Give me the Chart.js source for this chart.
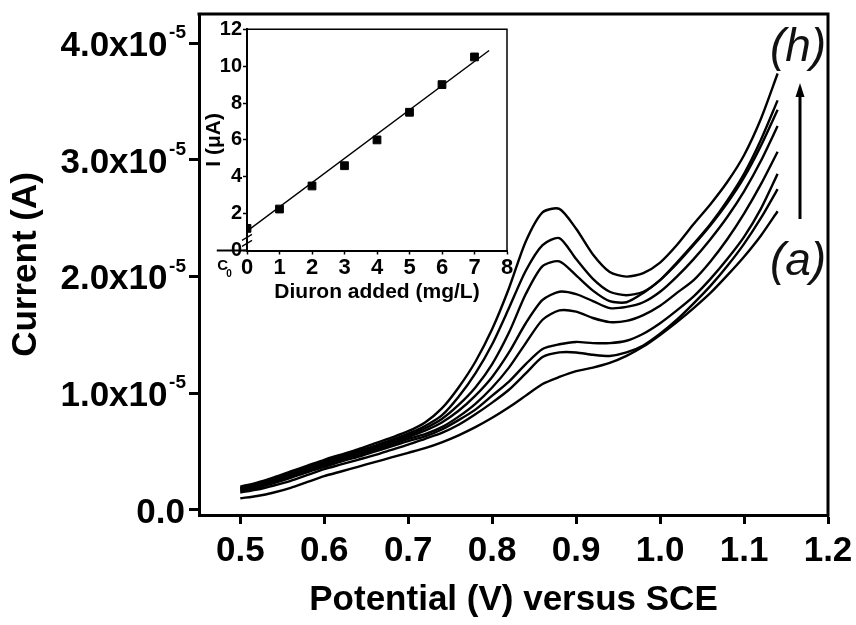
<!DOCTYPE html>
<html><head><meta charset="utf-8">
<script src="https://cdn.jsdelivr.net/npm/chart.js@4.4.1/dist/chart.umd.min.js"></script>
<style>
html,body{margin:0;padding:0;background:#fff;}
#wrap{position:relative;width:856px;height:625px;overflow:hidden;}
#main{position:absolute;left:0;top:0;width:856px;height:625px;}
#inset{position:absolute;left:200px;top:15px;width:315px;height:290px;}
</style></head><body>
<div id="wrap"><canvas id="main" width="856" height="625"></canvas><canvas id="inset" width="315" height="290"></canvas></div>
<script>
// ---- main plot data: potential (V vs SCE) and current in units of 1e-5 A ----
const potentialV = [0.50,0.52,0.54,0.56,0.58,0.60,0.62,0.64,0.66,0.68,0.70,0.72,0.74,0.76,0.78,0.80,0.82,0.84,0.86,0.88,0.90,0.92,0.94,0.96,0.98,1.00,1.02,1.04,1.06,1.08,1.10,1.12,1.14];
const curveA = [.10,.12,.15,.19,.24,.29,.33,.37,.41,.45,.49,.53,.58,.64,.71,.79,.88,.98,1.08,1.14,1.19,1.22,1.26,1.32,1.40,1.50,1.61,1.73,1.86,2.01,2.17,2.35,2.56];
const curveB = [.15,.175,.21,.25,.30,.35,.39,.43,.47,.515,.56,.61,.66,.73,.82,.92,1.03,1.17,1.31,1.35,1.35,1.33,1.32,1.35,1.41,1.51,1.63,1.77,1.92,2.09,2.28,2.50,2.75];
const curveC = [.16,.19,.23,.275,.325,.37,.415,.455,.50,.545,.59,.63,.69,.77,.86,.98,1.10,1.25,1.38,1.42,1.44,1.43,1.43,1.45,1.51,1.60,1.71,1.83,1.98,2.15,2.34,2.58,2.88];
const curveD = [.17,.20,.24,.285,.335,.385,.43,.47,.515,.56,.61,.65,.71,.80,.91,1.05,1.22,1.43,1.63,1.71,1.70,1.645,1.61,1.62,1.67,1.75,1.86,1.97,2.13,2.32,2.54,2.79,3.07];
const curveE = [.18,.21,.25,.295,.345,.395,.44,.485,.53,.575,.625,.68,.75,.85,.98,1.14,1.35,1.60,1.80,1.87,1.85,1.79,1.73,1.74,1.78,1.87,2.00,2.15,2.32,2.51,2.73,2.99,3.29];
const curveF = [.185,.22,.26,.305,.355,.405,.45,.495,.54,.59,.64,.70,.78,.90,1.05,1.25,1.52,1.85,2.09,2.13,2.01,1.88,1.79,1.78,1.86,1.97,2.11,2.27,2.44,2.63,2.85,3.12,3.43];
const curveG = [.19,.225,.27,.315,.365,.415,.46,.505,.55,.60,.655,.72,.81,.97,1.17,1.42,1.73,2.05,2.27,2.33,2.15,1.98,1.87,1.84,1.87,1.97,2.12,2.28,2.45,2.65,2.88,3.17,3.51];
const curveH = [.20,.235,.28,.33,.38,.43,.475,.52,.57,.62,.675,.75,.87,1.05,1.27,1.55,1.90,2.30,2.55,2.58,2.41,2.19,2.04,2.00,2.03,2.12,2.27,2.45,2.62,2.81,3.04,3.35,3.74];
const mainXTicks = [0.5,0.6,0.7,0.8,0.9,1.0,1.1,1.2];
const mainYTicks = [0,1,2,3,4];

// ---- inset data: Diuron added (mg/L) vs I (uA) ----
const insetConc = [0,1,2,3,4,5,6,7];
const insetCurrent = [1.2,2.25,3.5,4.6,6.0,7.5,9.0,10.5];
const fitConc = [0,7.45];
const fitCurrent = [1.05,10.85];
const c0Conc = [-0.75];
const c0Current = [0];
const insetXTicks = [0,1,2,3,4,5,6,7,8];
const insetYTicks = [0,2,4,6,8,10,12];

const FF = '"Liberation Sans", Arial, Helvetica, sans-serif';
const curves = [curveA,curveB,curveC,curveD,curveE,curveF,curveG,curveH];

const mainDecor = {
  id: 'mainDecor',
  afterDraw(chart) {
    const {ctx, chartArea: a, scales: {y}} = chart;
    ctx.save();
    ctx.strokeStyle = '#000';
    ctx.lineWidth = 3;
    ctx.beginPath();
    ctx.moveTo(a.left - 1.5, a.top);
    ctx.lineTo(a.right, a.top);
    ctx.lineTo(a.right, a.bottom + 1.5);
    ctx.stroke();
    // exponent superscripts of the y tick labels
    ctx.fillStyle = '#000';
    ctx.font = 'bold 19px ' + FF;
    ctx.textAlign = 'right';
    ctx.textBaseline = 'alphabetic';
    mainYTicks.forEach(v => {
      if (v !== 0) ctx.fillText('-5', a.left - 13, y.getPixelForValue(v) - 5);
    });
    // curve labels
    ctx.fillStyle = '#111';
    ctx.font = 'italic 46px ' + FF;
    ctx.textAlign = 'center';
    ctx.textBaseline = 'middle';
    ctx.fillText('(h)', 798, 48);
    ctx.fillText('(a)', 798, 262);
    // arrow
    ctx.lineWidth = 3;
    ctx.beginPath();
    ctx.moveTo(800, 219);
    ctx.lineTo(800, 92);
    ctx.stroke();
    ctx.fillStyle = '#000';
    ctx.beginPath();
    ctx.moveTo(800, 83);
    ctx.lineTo(795.5, 97);
    ctx.lineTo(804.5, 97);
    ctx.closePath();
    ctx.fill();
    ctx.restore();
  }
};

new Chart(document.getElementById('main'), {
  type: 'line',
  data: {
    datasets: curves.map(c => ({
      data: potentialV.map((x, i) => ({x: x, y: c[i]})),
      borderColor: '#000', borderWidth: 2.4, pointRadius: 0, tension: 0.25, fill: false
    }))
  },
  options: {
    responsive: false, animation: false, devicePixelRatio: 1,
    layout: {padding: {left: 0, top: 14, right: 28, bottom: 0}},
    plugins: {legend: {display: false}, tooltip: {enabled: false}},
    scales: {
      x: {
        type: 'linear', min: 0.4508, max: 1.2,
        afterBuildTicks: s => { s.ticks = mainXTicks.map(v => ({value: v})); },
        afterFit: s => { s.height = 110; s.paddingLeft = 0; s.paddingRight = 0; },
        ticks: {callback: v => v.toFixed(1), font: {family: FF, size: 35, weight: 'bold'}, color: '#000', padding: 6, maxRotation: 0, autoSkip: false},
        grid: {drawOnChartArea: false, drawTicks: true, tickLength: 9, tickWidth: 3, tickColor: '#000'},
        border: {display: true, color: '#000', width: 3},
        title: {display: true, text: 'Potential (V) versus SCE', font: {family: FF, size: 35, weight: 'bold'}, color: '#000', padding: {top: 0, bottom: 4}}
      },
      y: {
        type: 'linear', min: -0.043, max: 4.25,
        afterBuildTicks: s => { s.ticks = mainYTicks.map(v => ({value: v})); },
        afterFit: s => { s.width = 199; s.paddingTop = 0; s.paddingBottom = 0; },
        ticks: {callback: v => v === 0 ? '0.0' : v.toFixed(1) + 'x10\u2002', font: {family: FF, size: 35, weight: 'bold'}, color: '#000', padding: 4, labelOffset: 3, autoSkip: false},
        grid: {drawOnChartArea: false, drawTicks: true, tickLength: 10, tickWidth: 3, tickColor: '#000'},
        border: {display: true, color: '#000', width: 3},
        title: {display: true, text: 'Current (A)', font: {family: FF, size: 35, weight: 'bold'}, color: '#000', padding: {top: 5, bottom: 0}}
      }
    }
  },
  plugins: [mainDecor]
});

const insetDecor = {
  id: 'insetDecor',
  afterDraw(chart) {
    const {ctx, chartArea: a, scales: {x, y}} = chart;
    ctx.save();
    ctx.strokeStyle = '#000';
    ctx.lineWidth = 1.5;
    ctx.beginPath();
    ctx.moveTo(a.left, a.top);
    ctx.lineTo(a.right, a.top);
    ctx.lineTo(a.right, a.bottom);
    ctx.stroke();
    // axis extension to C0
    ctx.lineWidth = 2;
    ctx.beginPath();
    ctx.moveTo(x.getPixelForValue(-0.93), a.bottom);
    ctx.lineTo(a.left, a.bottom);
    ctx.stroke();
    // axis break marks
    ctx.lineWidth = 1.2;
    const cy = y.getPixelForValue(0.55);
    for (const dy of [-3, 3]) {
      ctx.beginPath();
      ctx.moveTo(a.left - 5, cy + dy + 3);
      ctx.lineTo(a.left + 5, cy + dy - 3);
      ctx.stroke();
    }
    // C0 label
    const px = x.getPixelForValue(c0Conc[0]);
    ctx.fillStyle = '#000';
    ctx.textAlign = 'center';
    ctx.textBaseline = 'middle';
    ctx.font = 'bold 15px ' + FF;
    ctx.fillText('C', px, a.bottom + 15);
    ctx.font = 'bold 10px ' + FF;
    ctx.fillText('0', px + 6.5, a.bottom + 24);
    ctx.restore();
  }
};

new Chart(document.getElementById('inset'), {
  type: 'line',
  data: {
    datasets: [
      {data: insetConc.map((x, i) => ({x: x, y: insetCurrent[i]})), showLine: false, pointStyle: 'rect', pointRadius: 5.5, pointBackgroundColor: '#000', pointBorderColor: '#000', pointBorderWidth: 1},
      {data: fitConc.map((x, i) => ({x: x, y: fitCurrent[i]})), borderColor: '#000', borderWidth: 1.5, pointRadius: 0, fill: false},
      {data: c0Conc.map((x, i) => ({x: x, y: c0Current[i]})), showLine: false, pointStyle: 'cross', pointRadius: 5.5, pointBorderColor: '#000', pointBorderWidth: 1.3, clip: false}
    ]
  },
  options: {
    responsive: false, animation: false, devicePixelRatio: 1,
    layout: {padding: {left: 0, top: 14.3, right: 8, bottom: 0}},
    plugins: {legend: {display: false}, tooltip: {enabled: false}},
    scales: {
      x: {
        type: 'linear', min: 0, max: 8,
        afterBuildTicks: s => { s.ticks = insetXTicks.map(v => ({value: v})); },
        afterFit: s => { s.height = 54.5; s.paddingLeft = 0; s.paddingRight = 0; },
        ticks: {callback: v => String(v), font: {family: FF, size: 22, weight: 'bold'}, color: '#000', padding: 0, maxRotation: 0, autoSkip: false},
        grid: {drawOnChartArea: false, drawTicks: true, tickLength: 4, tickWidth: 1.5, tickColor: '#000'},
        border: {display: true, color: '#000', width: 2},
        title: {display: true, text: 'Diuron added (mg/L)', font: {family: FF, size: 21, weight: 'bold'}, color: '#000', padding: {top: 0, bottom: 0}}
      },
      y: {
        type: 'linear', min: 0, max: 12,
        afterBuildTicks: s => { s.ticks = insetYTicks.map(v => ({value: v})); },
        afterFit: s => { s.width = 47; s.paddingTop = 0; s.paddingBottom = 0; },
        ticks: {callback: v => String(v), font: {family: FF, size: 20, weight: 'bold'}, color: '#000', padding: 1, autoSkip: false},
        grid: {drawOnChartArea: false, drawTicks: true, tickLength: 4, tickWidth: 1.5, tickColor: '#000'},
        border: {display: true, color: '#000', width: 2},
        title: {display: true, text: 'I (\u03BCA)', font: {family: FF, size: 21, weight: 'bold'}, color: '#000', padding: {top: 2, bottom: 0}}
      }
    }
  },
  plugins: [insetDecor]
});
</script>
</body></html>
